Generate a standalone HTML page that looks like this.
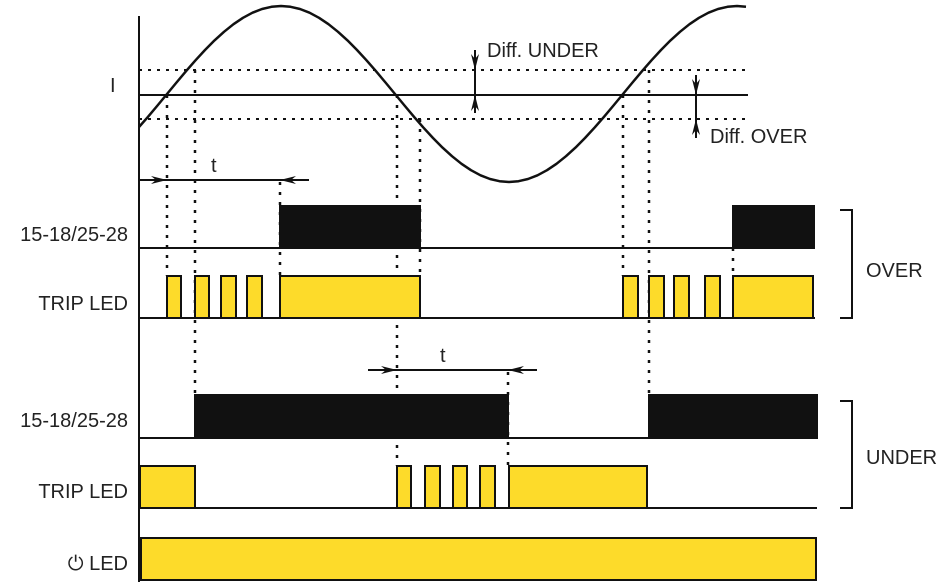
<!DOCTYPE html>
<html><head><meta charset="utf-8"><style>
html,body{margin:0;padding:0;background:#fff;width:940px;height:587px;overflow:hidden}
svg text{font-family:"Liberation Sans",sans-serif;font-size:20px;fill:#222}
</style></head><body>
<svg width="940" height="587" viewBox="0 0 940 587" xmlns="http://www.w3.org/2000/svg">
<defs>
<marker id="ah" markerWidth="16" markerHeight="8" refX="16" refY="4" orient="auto" markerUnits="userSpaceOnUse">
<path d="M0,0 L16,4 L0,8 L5,4 Z" fill="#111"/></marker>
</defs>
<g stroke="#111" stroke-width="2" stroke-dasharray="3,6" fill="none">
<line x1="139" y1="70" x2="750" y2="70"/>
<line x1="139" y1="119" x2="750" y2="119"/>
</g>
<g stroke="#111" stroke-width="2.5" stroke-dasharray="3,7" fill="none">
<line x1="167" y1="95" x2="167" y2="276"/>
<line x1="195" y1="70" x2="195" y2="395"/>
<line x1="280" y1="182" x2="280" y2="276"/>
<line x1="397" y1="95" x2="397" y2="466"/>
<line x1="420" y1="119" x2="420" y2="276"/>
<line x1="508" y1="372" x2="508" y2="466"/>
<line x1="623" y1="95" x2="623" y2="276"/>
<line x1="649" y1="70" x2="649" y2="395"/>
<line x1="733" y1="248" x2="733" y2="276"/>
</g>
<g stroke="#111" stroke-width="2">
<rect x="280" y="206" width="140" height="42" fill="#111"/>
<rect x="733" y="206" width="81" height="42" fill="#111"/>
<rect x="195" y="395" width="313" height="43" fill="#111"/>
<rect x="649" y="395" width="168" height="43" fill="#111"/>
</g>
<g stroke="#111" stroke-width="2" fill="#fddb2a">
<rect x="167" y="276" width="14" height="42"/>
<rect x="195" y="276" width="14" height="42"/>
<rect x="221" y="276" width="15" height="42"/>
<rect x="247" y="276" width="15" height="42"/>
<rect x="280" y="276" width="140" height="42"/>
<rect x="623" y="276" width="15" height="42"/>
<rect x="649" y="276" width="15" height="42"/>
<rect x="674" y="276" width="15" height="42"/>
<rect x="705" y="276" width="15" height="42"/>
<rect x="733" y="276" width="80" height="42"/>
<rect x="140" y="466" width="55" height="42"/>
<rect x="397" y="466" width="14" height="42"/>
<rect x="425" y="466" width="15" height="42"/>
<rect x="453" y="466" width="14" height="42"/>
<rect x="480" y="466" width="15" height="42"/>
<rect x="509" y="466" width="138" height="42"/>
<rect x="141" y="538" width="675" height="42"/>
</g>
<g stroke="#111" stroke-width="2" fill="none">
<line x1="139" y1="16" x2="139" y2="582"/>
<line x1="139" y1="95" x2="748" y2="95"/>
<line x1="139" y1="248" x2="815" y2="248"/>
<line x1="139" y1="318" x2="815" y2="318"/>
<line x1="139" y1="438" x2="817" y2="438"/>
<line x1="139" y1="508" x2="817" y2="508"/>
<polyline stroke-width="2.5" stroke-linejoin="round" points="139,127 148,116.8 157.5,105.5 167,94 176.5,82.5 186,71.2 195.5,60.3 205,50 214.5,40.4 224,31.8 233.5,24.2 243,17.8 252.5,12.7 262,9 271.5,6.8 281,6 290.5,6.8 300,9 309.5,12.7 319,17.8 328.5,24.2 338,31.8 347.5,40.4 357,50 366.5,60.3 376,71.2 385.5,82.5 395,94 404.5,105.5 414,116.8 423.5,127.7 433,138 442.5,147.6 452,156.2 461.5,163.8 471,170.2 480.5,175.3 490,179 499.5,181.2 509,182 518.5,181.2 528,179 537.5,175.3 547,170.2 556.5,163.8 566,156.2 575.5,147.6 585,138 594.5,127.7 604,116.8 613.5,105.5 623,94 632.5,82.5 642,71.2 651.5,60.3 661,50 670.5,40.4 680,31.8 689.5,24.2 699,17.8 708.5,12.7 718,9 727.5,6.8 737,6 746,6.8"/>
<path d="M840,210 H852 V318 H840"/>
<path d="M840,401 H852 V508 H840"/>
<line x1="139" y1="180" x2="309" y2="180"/>
<line x1="368" y1="370" x2="537" y2="370"/>
<line x1="475" y1="50" x2="475" y2="113"/>
<line x1="696" y1="75" x2="696" y2="138"/>
</g>
<g stroke="#111" stroke-width="1.5" fill="none">
<line x1="145" y1="180" x2="167" y2="180" marker-end="url(#ah)"/>
<line x1="305" y1="180" x2="280" y2="180" marker-end="url(#ah)"/>
<line x1="372" y1="370" x2="397" y2="370" marker-end="url(#ah)"/>
<line x1="533" y1="370" x2="508" y2="370" marker-end="url(#ah)"/>
<line x1="475" y1="52" x2="475" y2="70" marker-end="url(#ah)"/>
<line x1="475" y1="112" x2="475" y2="95" marker-end="url(#ah)"/>
<line x1="696" y1="77" x2="696" y2="95" marker-end="url(#ah)"/>
<line x1="696" y1="137" x2="696" y2="119" marker-end="url(#ah)"/>
</g>
<text x="110" y="92">I</text>
<text x="211" y="172">t</text>
<text x="440" y="362">t</text>
<text x="487" y="57">Diff. UNDER</text>
<text x="710" y="143">Diff. OVER</text>
<g style="font-size:21px">
<text x="128" y="241" text-anchor="end">15-18/25-28</text>
<text x="128" y="310" text-anchor="end">TRIP LED</text>
<text x="128" y="427" text-anchor="end">15-18/25-28</text>
<text x="128" y="498" text-anchor="end">TRIP LED</text>
<text x="128" y="570" text-anchor="end">⏻ LED</text>
</g>
<g style="font-size:19px">
<text x="866" y="277">OVER</text>
<text x="866" y="464">UNDER</text>
</g>
</svg>
</body></html>
